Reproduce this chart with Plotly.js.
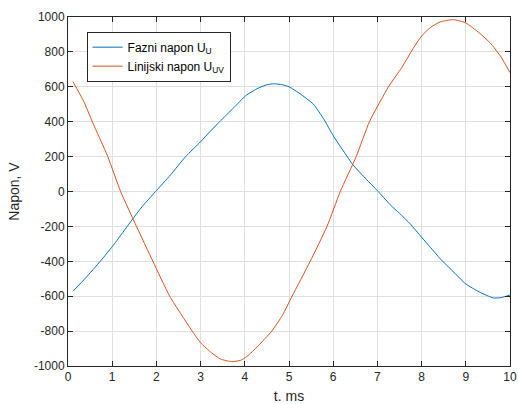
<!DOCTYPE html>
<html>
<head>
<meta charset="utf-8">
<script src="https://cdn.plot.ly/plotly-3.0.1.min.js"></script>
<style>html,body{margin:0;padding:0;background:#fff;}#chart{width:518px;height:404px;}</style>
</head>
<body>
<div id="chart"></div>
<script>
// Fazni napon U_U (blue)
const tBlue = [0.12, 0.4, 0.73, 1.05, 1.34, 1.65, 1.98, 2.32, 2.66, 3.0, 3.2, 3.43, 3.75, 4.02, 4.3, 4.5, 4.65, 4.85, 5.0, 5.25, 5.55, 5.8, 6.0, 6.25, 6.45, 6.75, 7.0, 7.29, 7.5, 7.74, 8.0, 8.2, 8.42, 8.7, 9.0, 9.3, 9.62, 9.8, 10.0];
const vBlue = [-570, -495, -400, -300, -200, -95, 0, 95, 200, 285, 340, 400, 480, 549, 592, 612, 617, 612, 600, 560, 501, 410, 320, 225, 152, 70, 5, -76, -125, -185, -262, -320, -385, -455, -530, -575, -610, -608, -593];
// Linijski napon U_UV (orange)
const tOrange = [0.11, 0.35, 0.55, 0.9, 1.19, 1.55, 1.92, 2.3, 2.55, 2.81, 3.0, 3.25, 3.45, 3.7, 3.9, 4.05, 4.3, 4.61, 4.85, 5.07, 5.48, 5.86, 6.16, 6.52, 6.82, 7.25, 7.55, 7.81, 8.0, 8.2, 8.42, 8.72, 9.0, 9.3, 9.55, 9.8, 10.0];
const vOrange = [630, 520, 400, 200, 0, -200, -400, -600, -700, -800, -867, -925, -960, -975, -968, -945, -885, -800, -710, -600, -400, -200, 0, 200, 400, 600, 710, 820, 891, 940, 972, 985, 966, 910, 852, 770, 681];
const seriesNames = ['Fazni napon U<sub>U</sub>', 'Linijski napon U<sub>UV</sub>'];
const xTicks = [0,1,2,3,4,5,6,7,8,9,10];
const yTicks = [-1000,-800,-600,-400,-200,0,200,400,600,800,1000];

const fam = 'Liberation Sans, Arial, sans-serif';
const font = {family: fam, size: 12, color: '#262626'};
const axisCommon = {
  showline: true, linecolor: '#262626', linewidth: 1, mirror: 'ticks',
  ticks: 'inside', ticklen: 5, tickcolor: '#262626', tickwidth: 1,
  showgrid: true, gridcolor: '#dfdfdf', gridwidth: 1, zeroline: false,
  tickfont: font
};
const data = [
  {x: tBlue, y: vBlue, type: 'scatter', mode: 'lines', name: seriesNames[0], line: {color: '#0072BD', width: 1, shape: 'spline', smoothing: 0.5}},
  {x: tOrange, y: vOrange, type: 'scatter', mode: 'lines', name: seriesNames[1], line: {color: '#D95319', width: 1, shape: 'spline', smoothing: 0.5}}
];
const layout = {
  width: 518, height: 404,
  margin: {l: 67.5, r: 8, t: 16.5, b: 38},
  paper_bgcolor: '#ffffff', plot_bgcolor: '#ffffff',
  font: font,
  showlegend: true,
  legend: {x: 0.042, y: 0.958, xanchor: 'left', yanchor: 'top', bgcolor: '#ffffff', bordercolor: '#262626', borderwidth: 1, font: {family: fam, size: 12, color: '#000'}, tracegroupgap: 0},
  xaxis: Object.assign({}, axisCommon, {range: [0, 10], tickvals: xTicks, ticktext: xTicks.map(String), title: {text: 't. ms', font: {family: fam, size: 14, color: '#262626'}, standoff: 8}}),
  yaxis: Object.assign({}, axisCommon, {range: [-1000, 1000], tickvals: yTicks, ticktext: yTicks.map(String), title: {text: 'Napon, V', font: {family: fam, size: 14, color: '#262626'}, standoff: 10}})
};
Plotly.newPlot('chart', data, layout, {displayModeBar: false, staticPlot: true});
</script>
</body>
</html>
